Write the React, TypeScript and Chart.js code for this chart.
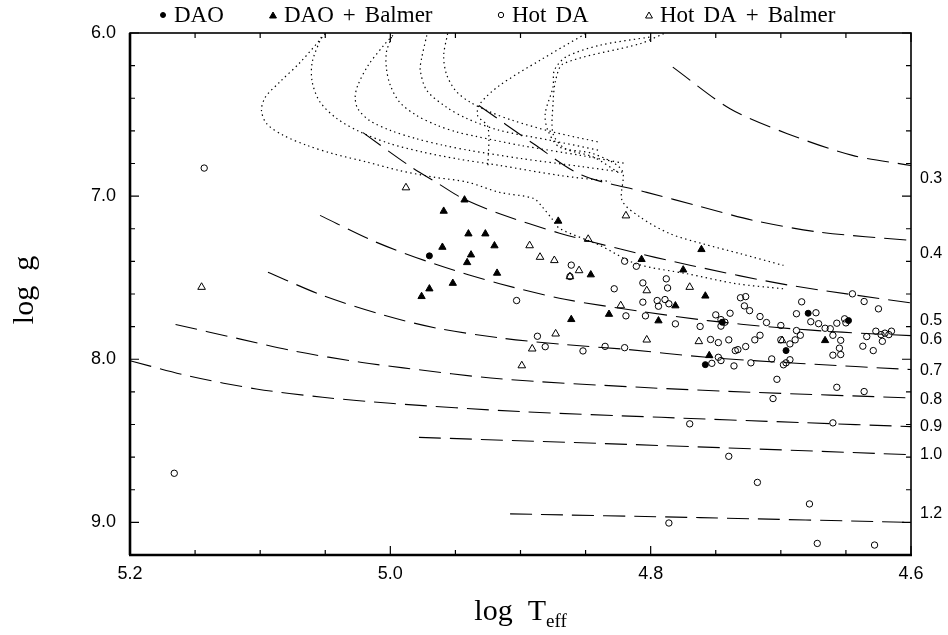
import React, { useEffect, useRef } from "react";
import { Chart, registerables } from "chart.js";
Chart.register(...registerables);

type Pair = [number, number];

// ---------- axis ranges / labels ----------
const X_MIN = 4.6;
const X_MAX = 5.2;
const Y_MIN = 6.0;
const Y_MAX = 9.2;
const xTickLabels = [5.2, 5.0, 4.8, 4.6];
const yTickLabels = [6.0, 7.0, 8.0, 9.0];

// ---------- stars ----------
const daoStars: Pair[] = [
  [4.970, 7.366], [4.679, 7.718], [4.648, 7.763], [4.696, 7.947], [4.758, 8.033], [4.745, 7.773],
];

const daoBalmer: Pair[] = [
  [4.943, 7.023], [4.959, 7.092], [4.940, 7.231], [4.927, 7.231], [4.960, 7.313], [4.920, 7.304],
  [4.938, 7.360], [4.941, 7.407], [4.918, 7.472], [4.952, 7.534], [4.970, 7.568], [4.976, 7.615],
  [4.871, 7.153], [4.846, 7.482], [4.832, 7.724], [4.861, 7.756], [4.761, 7.327], [4.807, 7.388],
  [4.775, 7.452], [4.758, 7.612], [4.781, 7.672], [4.794, 7.764], [4.666, 7.885], [4.755, 7.977],
];

const hotDA: Pair[] = [
  [5.143, 6.828], [5.166, 8.699], [4.861, 7.423], [4.862, 7.493], [4.903, 7.640], [4.828, 7.568],
  [4.820, 7.399], [4.811, 7.430], [4.819, 7.734], [4.887, 7.859], [4.881, 7.923], [4.852, 7.949],
  [4.835, 7.921], [4.820, 7.929], [4.788, 7.507], [4.787, 7.563], [4.806, 7.532], [4.645, 7.599],
  [4.731, 7.623], [4.727, 7.616], [4.636, 7.646], [4.806, 7.650], [4.795, 7.640], [4.789, 7.634],
  [4.786, 7.660], [4.794, 7.675], [4.804, 7.734], [4.781, 7.783], [4.762, 7.799], [4.728, 7.673],
  [4.724, 7.702], [4.739, 7.718], [4.750, 7.728], [4.746, 7.757], [4.743, 7.773], [4.746, 7.797],
  [4.716, 7.738], [4.711, 7.775], [4.700, 7.793], [4.684, 7.648], [4.688, 7.721], [4.673, 7.715],
  [4.677, 7.770], [4.671, 7.782], [4.666, 7.810], [4.662, 7.813], [4.657, 7.779], [4.651, 7.752],
  [4.650, 7.777], [4.625, 7.691], [4.660, 7.853], [4.654, 7.884], [4.688, 7.824], [4.685, 7.853],
  [4.689, 7.881], [4.693, 7.906], [4.700, 7.881], [4.716, 7.853], [4.720, 7.881], [4.727, 7.922],
  [4.740, 7.881], [4.748, 7.898], [4.754, 7.879], [4.735, 7.947], [4.733, 7.941], [4.748, 7.988],
  [4.746, 8.008], [4.753, 8.025], [4.736, 8.041], [4.723, 8.022], [4.707, 7.998], [4.698, 8.034],
  [4.696, 8.022], [4.693, 8.003], [4.655, 7.932], [4.660, 7.975], [4.654, 7.971], [4.637, 7.920],
  [4.629, 7.947], [4.634, 7.861], [4.627, 7.828], [4.622, 7.890], [4.623, 7.849], [4.620, 7.840],
  [4.617, 7.849], [4.615, 7.828], [4.703, 8.123], [4.657, 8.172], [4.636, 8.198], [4.706, 8.241],
  [4.770, 8.396], [4.660, 8.390], [4.740, 8.595], [4.718, 8.755], [4.678, 8.887], [4.786, 9.004],
  [4.672, 9.129], [4.628, 9.139],
];

const hotDABalmer: Pair[] = [
  [5.145, 7.558], [4.988, 6.948], [4.893, 7.303], [4.885, 7.374], [4.874, 7.394], [4.855, 7.456],
  [4.862, 7.493], [4.848, 7.264], [4.819, 7.120], [4.823, 7.671], [4.873, 7.844], [4.891, 7.936],
  [4.899, 8.039], [4.803, 7.579], [4.770, 7.558], [4.803, 7.881], [4.763, 7.891], [4.699, 7.885],
];

// ---------- constant-mass (dashed) tracks ----------
const massLabels = ["0.3", "0.4", "0.5", "0.6", "0.7", "0.8", "0.9", "1.0", "1.2"];
const massLabelLogg = [6.893, 7.352, 7.762, 7.879, 8.07, 8.247, 8.413, 8.585, 8.947];
const mass03: Pair[] = [[4.783, 6.209], [4.739, 6.464], [4.695, 6.617], [4.645, 6.75], [4.6, 6.812]];
const mass04: Pair[] = [[4.932, 6.444], [4.89, 6.679], [4.853, 6.871], [4.803, 6.977], [4.762, 7.063], [4.721, 7.149], [4.67, 7.221], [4.6, 7.272]];
const mass05: Pair[] = [[5.021, 6.611], [4.985, 6.816], [4.963, 6.924], [4.944, 7.016], [4.916, 7.108], [4.87, 7.227], [4.824, 7.323], [4.769, 7.425], [4.695, 7.544], [4.6, 7.655]];
const mass06: Pair[] = [[5.054, 7.118], [5.011, 7.282], [4.964, 7.421], [4.916, 7.537], [4.866, 7.632], [4.808, 7.706], [4.756, 7.763], [4.705, 7.804], [4.653, 7.834], [4.6, 7.855]];
const mass07: Pair[] = [[5.094, 7.466], [5.052, 7.609], [5.004, 7.732], [4.964, 7.81], [4.914, 7.871], [4.866, 7.91], [4.818, 7.94], [4.757, 7.988], [4.685, 8.026], [4.6, 8.063]];
const mass08: Pair[] = [[5.165, 7.787], [5.116, 7.875], [5.072, 7.953], [5.023, 8.018], [4.99, 8.053], [4.916, 8.12], [4.808, 8.172], [4.724, 8.202], [4.6, 8.237]];
const mass09: Pair[] = [[5.2, 8.009], [5.153, 8.106], [5.103, 8.182], [5.052, 8.233], [5.0, 8.27], [4.9, 8.321], [4.792, 8.356], [4.685, 8.388], [4.6, 8.413]];
const mass10: Pair[] = [[4.978, 8.479], [4.792, 8.529], [4.6, 8.585]];
const mass12: Pair[] = [[4.908, 8.948], [4.762, 8.971], [4.6, 9.0]];
const massTracks = [mass03, mass04, mass05, mass06, mass07, mass08, mass09, mass10, mass12];

// ---------- post-AGB evolutionary (dotted) tracks ----------
const evo1: Pair[] = [[5.05, 6.004], [5.069, 6.178], [5.085, 6.301], [5.096, 6.393], [5.099, 6.474], [5.095, 6.556], [5.082, 6.628], [5.064, 6.689], [5.044, 6.74], [5.018, 6.791], [4.993, 6.843], [4.967, 6.883], [4.941, 6.914], [4.916, 6.977], [4.89, 7.014], [4.883, 7.069], [4.876, 7.137], [4.87, 7.198], [4.839, 7.302], [4.811, 7.415], [4.772, 7.476], [4.734, 7.537], [4.698, 7.568]];
const evo2: Pair[] = [[5.053, 6.025], [5.06, 6.178], [5.06, 6.301], [5.054, 6.423], [5.041, 6.525], [5.023, 6.607], [5.0, 6.679], [4.975, 6.73], [4.949, 6.771], [4.916, 6.812], [4.87, 6.873], [4.831, 6.91]];
const evo3: Pair[] = [[4.998, 6.014], [5.005, 6.075], [5.017, 6.198], [5.025, 6.321], [5.027, 6.393], [5.025, 6.464], [5.016, 6.536], [5.0, 6.597], [4.98, 6.648], [4.959, 6.689], [4.939, 6.72], [4.9, 6.769], [4.854, 6.818], [4.82, 6.855]];
const evo4: Pair[] = [[4.999, 6.025], [5.003, 6.117], [5.003, 6.218], [5.0, 6.321], [4.993, 6.423], [4.98, 6.505], [4.964, 6.566], [4.949, 6.607], [4.934, 6.634], [4.9, 6.689], [4.854, 6.75], [4.82, 6.799]];
const evo5: Pair[] = [[4.972, 6.014], [4.976, 6.157], [4.977, 6.229], [4.972, 6.352], [4.957, 6.454], [4.941, 6.525], [4.916, 6.597], [4.877, 6.658], [4.839, 6.72]];
const evo6: Pair[] = [[4.956, 6.004], [4.959, 6.137], [4.957, 6.249], [4.95, 6.352], [4.939, 6.423], [4.923, 6.485], [4.906, 6.536], [4.875, 6.607], [4.839, 6.67]];
const evo7: Pair[] = [[4.85, 6.004], [4.885, 6.167], [4.916, 6.321], [4.931, 6.433], [4.933, 6.505], [4.925, 6.577], [4.925, 6.812]];
const evo8: Pair[] = [[4.801, 6.025], [4.839, 6.075], [4.865, 6.147], [4.874, 6.229], [4.875, 6.331], [4.881, 6.494], [4.879, 6.597], [4.87, 6.699], [4.844, 6.74], [4.822, 6.842], [4.822, 7.026], [4.808, 7.129], [4.785, 7.231], [4.76, 7.292], [4.731, 7.353], [4.698, 7.425]];
const evo9: Pair[] = [[4.79, 6.004], [4.808, 6.065], [4.867, 6.188], [4.873, 6.29], [4.875, 6.431], [4.875, 6.617], [4.866, 6.707], [4.844, 6.76], [4.824, 6.86]];
const evoTracks = [evo1, evo2, evo3, evo4, evo5, evo6, evo7, evo8, evo9];

// ---------- legend ----------
const legendLabels = ["DAO", "DAO + Balmer", "Hot DA", "Hot DA + Balmer"];

const toXY = (a: Pair[]) => a.map(([x, y]) => ({ x, y }));

const SERIF = '"Liberation Serif", "DejaVu Serif", serif';
const SANS = '"Liberation Sans", "DejaVu Sans", sans-serif';

function drawMarker(ctx: CanvasRenderingContext2D, kind: string, filled: boolean, cx: number, cy: number, r: number) {
  ctx.beginPath();
  if (kind === "circle") {
    ctx.arc(cx, cy, r, 0, Math.PI * 2);
  } else {
    ctx.moveTo(cx, cy - r);
    ctx.lineTo(cx + r * 0.866, cy + r * 0.5);
    ctx.lineTo(cx - r * 0.866, cy + r * 0.5);
    ctx.closePath();
  }
  if (filled) ctx.fill();
  ctx.stroke();
}

function drawSpaced(ctx: CanvasRenderingContext2D, text: string, x: number, y: number, gap: number) {
  let cx = x;
  text.split(" ").forEach((w) => {
    ctx.fillText(w, cx, y);
    cx += ctx.measureText(w).width + gap;
  });
}

const framePlugin = {
  id: "frame",
  afterDraw(chart: any) {
    const { ctx, chartArea: a, scales } = chart;
    const xs = scales.x;
    const ys = scales.y;
    ctx.save();
    ctx.strokeStyle = "#000";
    ctx.fillStyle = "#000";
    ctx.lineWidth = 1.6;
    ctx.strokeRect(a.left, a.top, a.right - a.left, a.bottom - a.top);
    ctx.lineWidth = 2.6;
    ctx.beginPath();
    ctx.moveTo(a.left - 1, a.bottom);
    ctx.lineTo(a.right + 1, a.bottom);
    ctx.moveTo(a.left, a.top);
    ctx.lineTo(a.left, a.bottom);
    ctx.stroke();

    ctx.lineWidth = 1.2;
    ctx.beginPath();
    for (let i = 0; i <= 12; i++) {
      const v = X_MIN + i * 0.05;
      const px = xs.getPixelForValue(v);
      const major = i % 4 === 0;
      const L = major ? 9 : 5;
      ctx.moveTo(px, a.bottom);
      ctx.lineTo(px, a.bottom - L);
      ctx.moveTo(px, a.top);
      ctx.lineTo(px, a.top + L);
    }
    for (let i = 0; i <= 16; i++) {
      const v = Y_MIN + i * 0.2;
      const py = ys.getPixelForValue(v);
      const major = i % 5 === 0;
      const L = major ? 9 : 5;
      ctx.moveTo(a.left, py);
      ctx.lineTo(a.left + L, py);
      ctx.moveTo(a.right, py);
      ctx.lineTo(a.right - L, py);
    }
    ctx.stroke();

    // mass labels on the right
    ctx.font = `16px ${SANS}`;
    ctx.textAlign = "left";
    ctx.textBaseline = "middle";
    massLabels.forEach((t, i) => {
      ctx.fillText(t, a.right + 9, ys.getPixelForValue(massLabelLogg[i]));
    });

    // x title with subscript
    ctx.textBaseline = "alphabetic";
    ctx.font = `30px ${SERIF}`;
    const main = "log  T";
    const wMain = ctx.measureText(main).width;
    ctx.font = `19px ${SERIF}`;
    const wSub = ctx.measureText("eff").width;
    const sx = (a.left + a.right) / 2 - (wMain + wSub) / 2;
    ctx.font = `30px ${SERIF}`;
    ctx.fillText(main, sx, 620);
    ctx.font = `19px ${SERIF}`;
    ctx.fillText("eff", sx + wMain, 627);

    // y title
    ctx.save();
    ctx.translate(33, 290);
    ctx.rotate(-Math.PI / 2);
    ctx.font = `30px ${SERIF}`;
    ctx.textAlign = "center";
    ctx.fillText("log  g", 0, 0);
    ctx.restore();

    // legend
    const kinds = [
      ["circle", true],
      ["triangle", true],
      ["circle", false],
      ["triangle", false],
    ] as const;
    const textX = [174, 284, 512, 660];
    ctx.font = `23px ${SERIF}`;
    ctx.textAlign = "left";
    ctx.textBaseline = "alphabetic";
    ctx.lineWidth = 1;
    legendLabels.forEach((t, i) => {
      const [k, f] = kinds[i];
      drawMarker(ctx, k, f, textX[i] - 11, k === "circle" ? 15 : 16, k === "circle" ? (f ? 2.5 : 2.7) : 4);
      drawSpaced(ctx, t, textX[i], 22, 9);
    });
    ctx.restore();
  },
};

export default function App() {
  const ref = useRef<HTMLCanvasElement | null>(null);
  useEffect(() => {
    if (!ref.current) return;
    const lineDs = (d: Pair[], dash: number[], w: number) => ({
      data: toXY(d),
      showLine: true,
      pointRadius: 0,
      borderColor: "#000",
      borderWidth: w,
      borderDash: dash,
      tension: 0.3,
      fill: false,
    });
    const datasets: any[] = [
      {
        label: "DAO",
        data: toXY(daoStars),
        pointStyle: "circle",
        pointRadius: 3,
        backgroundColor: "#000",
        borderColor: "#000",
        borderWidth: 1,
      },
      {
        label: "DAO + Balmer",
        data: toXY(daoBalmer),
        pointStyle: "triangle",
        pointRadius: 4.2,
        backgroundColor: "#000",
        borderColor: "#000",
        borderWidth: 1,
      },
      {
        label: "Hot DA",
        data: toXY(hotDA),
        pointStyle: "circle",
        pointRadius: 3.2,
        backgroundColor: "rgba(0,0,0,0)",
        borderColor: "#000",
        borderWidth: 1,
      },
      {
        label: "Hot DA + Balmer",
        data: toXY(hotDABalmer),
        pointStyle: "triangle",
        pointRadius: 4.4,
        backgroundColor: "rgba(0,0,0,0)",
        borderColor: "#000",
        borderWidth: 1,
      },
      ...massTracks.map((d) => lineDs(d, [22, 9], 1.1)),
      ...evoTracks.map((d) => lineDs(d, [1.4, 3.4], 1.2)),
    ];
    const chart = new Chart(ref.current, {
      type: "scatter",
      data: { datasets },
      plugins: [framePlugin],
      options: {
        responsive: false,
        animation: false,
        devicePixelRatio: 1,
        layout: { padding: { left: 0, right: 37, top: 33, bottom: 0 } },
        plugins: { legend: { display: false }, tooltip: { enabled: false } },
        scales: {
          x: {
            type: "linear",
            min: X_MIN,
            max: X_MAX,
            reverse: true,
            afterBuildTicks: (s: any) => {
              s.ticks = xTickLabels.map((v) => ({ value: v }));
            },
            afterFit: (s: any) => {
              s.height = 80;
            },
            ticks: {
              autoSkip: false,
              maxRotation: 0,
              padding: 8,
              color: "#000",
              font: { family: SANS, size: 18 },
              callback: (v: any) => Number(v).toFixed(1),
            },
            grid: { display: false, drawTicks: false },
            border: { display: false },
          },
          y: {
            type: "linear",
            min: Y_MIN,
            max: Y_MAX,
            reverse: true,
            afterBuildTicks: (s: any) => {
              s.ticks = yTickLabels.map((v) => ({ value: v }));
            },
            afterFit: (s: any) => {
              s.width = 130;
            },
            ticks: {
              autoSkip: false,
              padding: 14,
              color: "#000",
              font: { family: SANS, size: 18 },
              callback: (v: any) => Number(v).toFixed(1),
            },
            grid: { display: false, drawTicks: false },
            border: { display: false },
          },
        },
      },
    });
    return () => chart.destroy();
  }, []);
  return (
    <div style={{ position: "fixed", left: 0, top: 0, width: 948, height: 635, background: "#fff" }}>
      <canvas ref={ref} width={948} height={635} style={{ width: 948, height: 635, display: "block" }} />
    </div>
  );
}
